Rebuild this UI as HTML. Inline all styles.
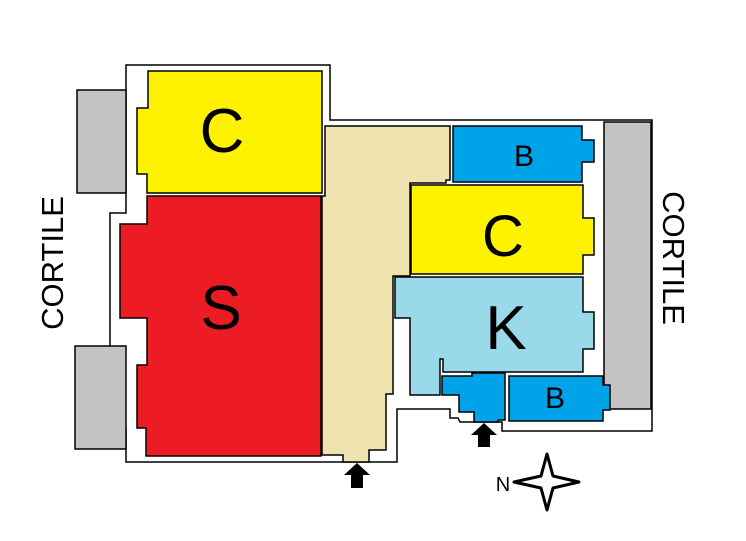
<!DOCTYPE html>
<html><head><style>html,body{margin:0;padding:0;background:#fff}svg{display:block}</style></head>
<body>
<svg width="746" height="541" viewBox="0 0 746 541" xmlns="http://www.w3.org/2000/svg" font-family="Liberation Sans, Arial, sans-serif">
<g stroke="#000" stroke-width="1.5">
<polygon fill="#fff" points="126,65 330,65 330,120 652,120 652,431 502,431 502,422 460,422 458,418 450,418 450,409 397,409 397,462 126,462 126,428 110,428 110,213 126,213"/>
<rect x="77" y="90" width="49" height="103" fill="#c3c3c3"/>
<rect x="75" y="346" width="51" height="103" fill="#c3c3c3"/>
<rect x="604" y="122" width="47" height="287" fill="#c3c3c3"/>
<polygon fill="#fff200" points="148,71 322,71 322,193 147,193 147,174 137,174 137,108 148,108"/>
<polygon fill="#ed1c24" points="147,196 321,196 321,456 146,456 146,428 137,428 137,365 147,365 147,318 120,318 120,224 147,224"/>
<polygon fill="#efe4b0" points="325,126 450,126 450,180 446,180 446,183 410,183 410,276 393,276 393,394 386,394 386,450 369,450 369,462 343,462 343,455 322,455 322,196 325,196"/>
<polygon fill="#00a2e8" points="453,126 582,126 582,140 594,140 594,162 582,162 582,182 453,182"/>
<polygon fill="#fff200" points="411,185 583,185 583,218 594,218 594,255 583,255 583,274 411,274"/>
<polygon fill="#99d9ea" points="395,277 583,277 583,312 594,312 594,349 583,349 583,372 443,372 443,359 440,359 440,395 410,395 410,318 395,318"/>
<polygon fill="#00a2e8" points="442,376 472,376 472,373 505,373 505,420 498,420 498,422 474,422 474,412 459,412 459,395 442,395"/>
<polygon fill="#00a2e8" points="509,376 603,376 603,385 610,385 610,410 603,410 603,421 509,421"/>
</g>
<g fill="#000">
<polygon points="357,463 370,475 363,475 363,488 351,488 351,475 344,475"/>
<polygon points="484,423 497,435 490,435 490,447 478,447 478,435 471,435"/>
</g>
<polygon points="547,454 553,476 579,482 553,488 547,510 541,488 514,482 541,476" fill="#fff" stroke="#000" stroke-width="3" stroke-linejoin="round"/>
<text x="503" y="491" font-size="20" text-anchor="middle">N</text>
<g text-anchor="middle" fill="#000">
<text x="222" y="152" font-size="62">C</text>
<text x="221" y="329" font-size="62">S</text>
<text x="524" y="166" font-size="30">B</text>
<text x="503" y="256" font-size="58">C</text>
<text x="506" y="349" font-size="62">K</text>
<text x="555" y="408" font-size="30">B</text>
<text transform="translate(63,263) rotate(-90)" font-size="31">CORTILE</text>
<text transform="translate(663,258) rotate(90)" font-size="31">CORTILE</text>
</g>
</svg>
</body></html>
